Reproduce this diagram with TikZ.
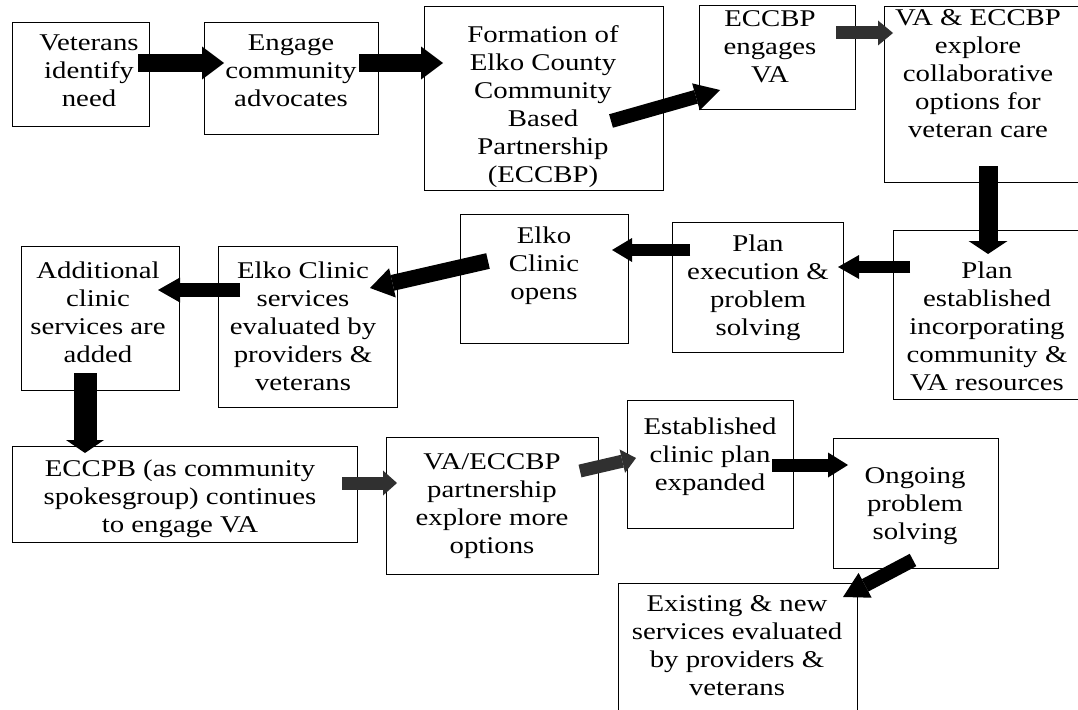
\documentclass[tikz,border=0pt]{standalone}
\usepackage{fontspec}
\setmainfont[FakeStretch=1.2]{Liberation Serif}
\usetikzlibrary{arrows.meta}
\definecolor{dg}{RGB}{48,48,48}
\begin{document}
\begin{tikzpicture}[x=1pt,y=-1pt,
  box/.style={draw, line width=1pt, inner sep=0pt, anchor=north west},
  lbl/.style={anchor=north, align=center, inner sep=0pt, font=\fontsize{24}{28}\selectfont},
  fat/.style n args={3}{line width=#1, -{Triangle[width=#2,length=#3,line width=0pt]}},
]
\useasboundingbox (0,0) rectangle (1078,709);
\clip (0,0) rectangle (1078,709);
\fill[white] (0,0) rectangle (1078,709);

% boxes
\node[box, minimum width=137pt, minimum height=104pt] (b1) at (12,22) {};
\node[box, minimum width=174pt, minimum height=112pt] (b2) at (204,22) {};
\node[box, minimum width=239pt, minimum height=184pt] (b3) at (424,6) {};
\node[box, minimum width=156pt, minimum height=104pt] (b4) at (699,5) {};
\node[box, minimum width=206pt, minimum height=176pt] (b5) at (884,6) {};
\node[box, minimum width=197pt, minimum height=169pt] (b6) at (893,230) {};
\node[box, minimum width=171pt, minimum height=130pt] (b7) at (672,222) {};
\node[box, minimum width=168pt, minimum height=129pt] (b8) at (460,214) {};
\node[box, minimum width=179pt, minimum height=161pt] (b9) at (218,246) {};
\node[box, minimum width=158pt, minimum height=144pt] (b10) at (21,246) {};
\node[box, minimum width=345pt, minimum height=96pt] (b11) at (12,446) {};
\node[box, minimum width=212pt, minimum height=137pt] (b12) at (386,437) {};
\node[box, minimum width=166pt, minimum height=128pt] (b13) at (627,400) {};
\node[box, minimum width=165pt, minimum height=130pt] (b14) at (833,438) {};
\node[box, minimum width=239pt, minimum height=137pt] (b15) at (618,583) {};

% labels
\node[lbl] (t1) at (89,35) {Veterans\\identify\\need};
\node[lbl] (t2) at (291,35) {Engage\\community\\advocates};
\node[lbl] (t3) at (543,25) {Formation of\\Elko County\\Community\\Based\\Partnership\\(ECCBP)};
\node[lbl] (t4) at (770,10) {ECCBP\\engages\\VA};
\node[lbl] (t5) at (978,9) {VA \& ECCBP\\explore\\collaborative\\options for\\veteran care};
\node[lbl] (t6) at (987,262) {Plan\\established\\incorporating\\community \&\\VA resources};
\node[lbl] (t7) at (758,235) {Plan\\execution \&\\problem\\solving};
\node[lbl] (t8) at (544,227) {Elko\\Clinic\\opens};
\node[lbl] (t9) at (303,262) {Elko Clinic\\services\\evaluated by\\providers \&\\veterans};
\node[lbl] (t10) at (98,262) {Additional\\clinic\\services are\\added};
\node[lbl] (t11) at (180,460) {ECCPB (as community\\spokesgroup) continues\\to engage VA};
\node[lbl] (t12) at (492,453) {VA/ECCBP\\partnership\\explore more\\options};
\node[lbl] (t13) at (710,418) {Established\\clinic plan\\expanded};
\node[lbl] (t14) at (915,467) {Ongoing\\problem\\solving};
\node[lbl] (t15) at (737,595) {Existing \& new\\services evaluated\\by providers \&\\veterans};

% arrow end points
\coordinate (a1s) at (138,63);  \coordinate (a1e) at (224,63);
\coordinate (a2s) at (359,63);  \coordinate (a2e) at (443,63);
\coordinate (a3s) at (611,121); \coordinate (a3e) at (720,90);
\coordinate (a4s) at (836,33);  \coordinate (a4e) at (893,33);
\coordinate (a5s) at (988,166); \coordinate (a5e) at (988,254);
\coordinate (a6s) at (910,267); \coordinate (a6e) at (838,267);
\coordinate (a7s) at (690,250); \coordinate (a7e) at (612,250);
\coordinate (a8s) at (488,261); \coordinate (a8e) at (370,288);
\coordinate (a9s) at (240,290); \coordinate (a9e) at (158,290);
\coordinate (a10s) at (85,373); \coordinate (a10e) at (85,453);
\coordinate (a11s) at (342,483); \coordinate (a11e) at (397,483);
\coordinate (a12s) at (580,471); \coordinate (a12e) at (636,458);
\coordinate (a13s) at (772,465); \coordinate (a13e) at (848,465);
\coordinate (a14s) at (913,560); \coordinate (a14e) at (843,597);

% arrows
\draw[fat={18pt}{33pt}{22pt}] (a1s) -- (a1e);
\draw[fat={18pt}{33pt}{22pt}] (a2s) -- (a2e);
\draw[fat={14pt}{28pt}{25pt}] (a3s) -- (a3e);
\draw[dg, fat={13pt}{25pt}{15pt}] (a4s) -- (a4e);
\draw[fat={19pt}{39pt}{13pt}] (a5s) -- (a5e);
\draw[fat={12pt}{24pt}{21pt}] (a6s) -- (a6e);
\draw[fat={12pt}{24pt}{20pt}] (a7s) -- (a7e);
\draw[fat={16pt}{30pt}{23pt}] (a8s) -- (a8e);
\draw[fat={14pt}{25pt}{22pt}] (a9s) -- (a9e);
\draw[fat={23pt}{38pt}{13pt}] (a10s) -- (a10e);
\draw[dg, fat={13pt}{25pt}{14pt}] (a11s) -- (a11e);
\draw[dg, fat={13pt}{24pt}{14pt}] (a12s) -- (a12e);
\draw[fat={13pt}{25pt}{20pt}] (a13s) -- (a13e);
\draw[fat={14pt}{28pt}{25pt}] (a14s) -- (a14e);
\end{tikzpicture}
\end{document}
